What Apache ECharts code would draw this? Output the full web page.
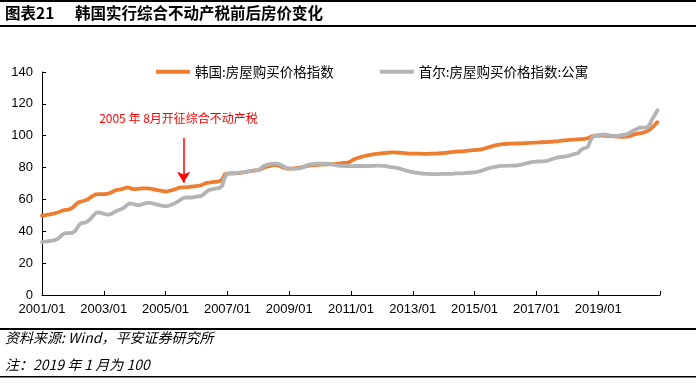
<!DOCTYPE html>
<html><head><meta charset="utf-8">
<script src="https://cdn.jsdelivr.net/npm/echarts@6/dist/echarts.min.js"></script>
<style>html,body{margin:0;padding:0;background:#fff}#c{width:696px;height:383px}</style>
</head><body><div id="c"></div>
<script>
// monthly categories 2001/01 .. 2021/01 (last is empty axis end)
const categories = [];
for (let y = 2001; y <= 2021; y++) {
  for (let m = 1; m <= 12; m++) {
    if (y === 2021 && m > 1) break;
    categories.push(y + '/' + (m < 10 ? '0' + m : m));
  }
}
const tickLabels = ['2001/01','2003/01','2005/01','2007/01','2009/01','2011/01','2013/01','2015/01','2017/01','2019/01'];
const seriesNames = ['韩国:房屋购买价格指数', '首尔:房屋购买价格指数:公寓'];

const korea = [
  49.8, 50.0, 50.3, 50.6, 51.0, 51.3, 51.8, 52.3, 53.0, 53.4, 53.6, 54.0,
  55.0, 56.5, 58.0, 58.6, 59.0, 59.5, 60.3, 61.5, 62.5, 63.2, 63.3, 63.3,
  63.3, 63.4, 63.8, 64.5, 65.3, 66.0, 66.2, 66.5, 67.0, 67.5, 67.3, 66.5,
  66.5, 66.6, 66.8, 67.0, 67.0, 67.0, 66.8, 66.5, 66.2, 65.8, 65.5, 65.2,
  64.9, 65.2, 65.6, 66.0, 66.6, 67.2, 67.5, 67.6, 67.7, 67.8, 68.0, 68.2,
  68.4, 68.6, 69.0, 69.8, 70.4, 70.6, 70.8, 71.0, 71.1, 71.5, 72.5, 75.8,
  76.2, 76.3, 76.3, 76.4, 76.5, 76.7, 77.0, 77.2, 77.5, 77.8, 78.0, 78.2,
  78.4, 79.0, 79.8, 80.5, 80.8, 81.2, 81.5, 81.5, 81.2, 80.5, 79.8, 79.4,
  79.3, 79.3, 79.5, 79.8, 80.0, 80.3, 80.6, 81.0, 81.3, 81.5, 81.6, 81.7,
  81.8, 81.9, 82.0, 82.0, 82.1, 82.2, 82.3, 82.5, 82.7, 82.9, 83.0, 83.2,
  84.0, 85.0, 85.7, 86.2, 86.7, 87.1, 87.5, 87.8, 88.1, 88.4, 88.6, 88.8,
  89.0, 89.1, 89.3, 89.4, 89.5, 89.5, 89.4, 89.3, 89.2, 89.0, 88.9, 88.8,
  88.8, 88.7, 88.7, 88.7, 88.6, 88.6, 88.6, 88.7, 88.8, 88.8, 88.9, 89.0,
  89.1, 89.3, 89.5, 89.7, 89.9, 90.0, 90.1, 90.2, 90.3, 90.5, 90.7, 90.9,
  90.9, 91.1, 91.3, 91.6, 92.0, 92.5, 93.0, 93.5, 93.9, 94.2, 94.5, 94.7,
  94.8, 94.9, 95.0, 95.0, 95.1, 95.1, 95.2, 95.3, 95.4, 95.5, 95.5, 95.6,
  95.7, 95.8, 95.9, 96.0, 96.0, 96.1, 96.2, 96.4, 96.5, 96.7, 96.9, 97.1,
  97.2, 97.4, 97.5, 97.6, 97.7, 97.8, 97.9, 98.1, 98.5, 99.3, 99.8, 100.0,
  100.0, 100.0, 100.0, 99.9, 99.8, 99.7, 99.6, 99.5, 99.4, 99.3, 99.3, 99.4,
  99.6, 100.2, 100.8, 101.2, 101.5, 101.8, 102.2, 102.8, 103.8, 105.3, 106.8, 108.5
];
const seoulApt = [
  33.4, 33.5, 33.7, 33.9, 34.2, 34.5, 35.2, 36.5, 38.0, 38.7, 38.8, 38.9,
  39.2, 40.5, 43.0, 45.0, 45.3, 45.6, 46.6, 48.0, 50.0, 51.5, 51.8, 51.5,
  51.0, 50.6, 50.5, 51.0, 52.0, 52.8, 53.5, 54.0, 55.0, 56.5, 57.5, 57.2,
  56.8, 56.4, 56.5, 57.0, 57.5, 57.9, 57.8, 57.5, 57.0, 56.7, 56.3, 56.0,
  55.8, 56.0, 56.5, 57.2, 58.0, 59.0, 60.0, 61.0, 61.2, 61.2, 61.2, 61.5,
  61.8, 62.0, 62.3, 63.5, 65.0, 66.0, 66.3, 66.6, 67.0, 67.2, 68.5, 74.0,
  76.0, 76.3, 76.4, 76.5, 76.6, 76.8, 77.0, 77.3, 77.6, 77.9, 78.1, 78.3,
  78.4, 79.5, 81.0, 81.5, 82.0, 82.3, 82.5, 82.5, 82.2, 81.5, 80.5, 79.8,
  79.4, 79.3, 79.3, 79.4, 79.5, 80.0, 80.8, 81.5, 81.9, 82.1, 82.3, 82.4,
  82.5, 82.5, 82.5, 82.4, 82.1, 81.8, 81.5, 81.3, 81.1, 81.0, 80.9, 80.9,
  80.9, 80.9, 81.0, 81.0, 81.0, 81.0, 80.9, 80.9, 81.0, 81.1, 81.2, 81.2,
  81.1, 81.0, 80.8, 80.5, 80.3, 80.0, 79.7, 79.3, 78.8, 78.3, 77.9, 77.5,
  77.2, 76.9, 76.6, 76.4, 76.2, 76.1, 76.0, 75.9, 75.9, 75.9, 75.9, 76.0,
  76.0, 76.1, 76.1, 76.1, 76.2, 76.3, 76.3, 76.4, 76.5, 76.7, 76.8, 76.9,
  77.0, 77.3, 77.7, 78.2, 78.8, 79.3, 79.8, 80.2, 80.5, 80.8, 81.0, 81.1,
  81.1, 81.2, 81.2, 81.2, 81.3, 81.5, 81.8, 82.2, 82.6, 83.0, 83.4, 83.6,
  83.7, 83.8, 83.9, 84.0, 84.2, 84.6, 85.2, 85.8, 86.2, 86.6, 86.8, 86.9,
  87.2, 87.6, 88.1, 88.6, 88.9, 90.5, 91.8, 92.3, 93.0, 97.0, 99.5, 100.2,
  100.0, 100.5, 100.8, 100.6, 100.3, 100.0, 99.9, 99.9, 100.0, 100.3, 100.6, 100.8,
  101.5, 102.5, 103.5, 104.2, 105.0, 105.1, 105.1, 105.1, 107.0, 110.5, 113.0, 116.0
];
const annotationText = '2005 年 8月开征综合不动产税';
const annotationMonth = '2005/08';
const annotationTextMonth = '2005/06';
const titleNo = '图表21';
const titleText = '韩国实行综合不动产税前后房价变化';
const sourceText = '资料来源: Wind，平安证券研究所';
const noteText = '注：2019 年 1 月为 100';

const chart = echarts.init(document.getElementById('c'), null, {renderer: 'canvas'});
const latin = '"Liberation Sans", Arial, "Noto Sans CJK SC", sans-serif';
const cjk = '"Noto Sans CJK SC", "Liberation Sans", sans-serif';

chart.setOption({
  animation: false,
  backgroundColor: '#fff',
  grid: {left: 42, right: 36, top: 72, bottom: 88, containLabel: false},
  legend: {
    data: seriesNames,
    left: 151, top: 60,
    itemWidth: 34, itemHeight: 10, itemGap: 46,
    icon: 'path://M0,3 L34,3 L34,7 L0,7 Z',
    textStyle: {fontFamily: cjk, fontSize: 13.5, color: '#000'}
  },
  xAxis: {
    type: 'category',
    data: categories,
    boundaryGap: false,
    axisLine: {lineStyle: {color: '#000', width: 1}},
    axisTick: {inside: true, length: 4, interval: 23, lineStyle: {color: '#000'}},
    axisLabel: {
      interval: 23, margin: 8, color: '#000', fontSize: 13, fontFamily: latin,
      formatter: v => tickLabels.indexOf(v) >= 0 ? v : ''
    },
    splitLine: {show: false}
  },
  yAxis: {
    type: 'value', min: 0, max: 140, interval: 20,
    axisLine: {show: true, lineStyle: {color: '#000', width: 1}},
    axisTick: {show: true, inside: true, length: 4, lineStyle: {color: '#000'}},
    axisLabel: {color: '#000', fontSize: 13, fontFamily: latin, margin: 9},
    splitLine: {show: false}
  },
  series: [
    {
      name: seriesNames[0], type: 'line', data: korea,
      showSymbol: false, symbol: 'none',
      lineStyle: {color: '#ED7D31', width: 3.8, join: 'round', cap: 'round'},
      itemStyle: {color: '#ED7D31'},
      markLine: {
        silent: true, animation: false,
        symbol: ['none', 'arrow'], symbolSize: [10, 11],
        lineStyle: {color: '#FF0000', width: 1.5, type: 'solid'},
        label: {show: false},
        data: [[{coord: [annotationMonth, 98.5]}, {coord: [annotationMonth, 70.5]}]]
      },
      markPoint: {
        silent: true, animation: false,
        symbol: 'circle', symbolSize: 0,
        label: {show: true, position: 'inside', formatter: annotationText,
                color: '#FF0000', fontSize: 12, fontFamily: cjk},
        data: [{coord: [annotationTextMonth, 111]}]
      }
    },
    {
      name: seriesNames[1], type: 'line', data: seoulApt,
      showSymbol: false, symbol: 'none',
      lineStyle: {color: '#B4B4B4', width: 3.8, join: 'round', cap: 'round'},
      itemStyle: {color: '#B4B4B4'}
    }
  ],
  graphic: [
    {type: 'rect', shape: {x: 0, y: 0, width: 696, height: 2}, style: {fill: '#000'}},
    {type: 'text', left: 5, top: 5, style: {text: titleNo, fontSize: 15.5, fontWeight: 'bold', fontFamily: cjk, fill: '#000'}},
    {type: 'text', left: 75, top: 5, style: {text: titleText, fontSize: 15.5, fontWeight: 'bold', fontFamily: cjk, fill: '#000'}},
    {type: 'rect', shape: {x: 0, y: 25, width: 696, height: 2}, style: {fill: '#000'}},
    {type: 'rect', shape: {x: 0, y: 328, width: 696, height: 2}, style: {fill: '#000'}},
    {type: 'text', left: 5, top: 331, style: {text: sourceText, fontSize: 14, fontStyle: 'italic', fontFamily: cjk, fill: '#000'}},
    {type: 'text', left: 5, top: 358, style: {text: noteText, fontSize: 14, fontStyle: 'italic', fontFamily: cjk, fill: '#000'}},
    {type: 'rect', shape: {x: 0, y: 376, width: 696, height: 1.5}, style: {fill: '#000'}}
  ]
});
</script></body></html>
